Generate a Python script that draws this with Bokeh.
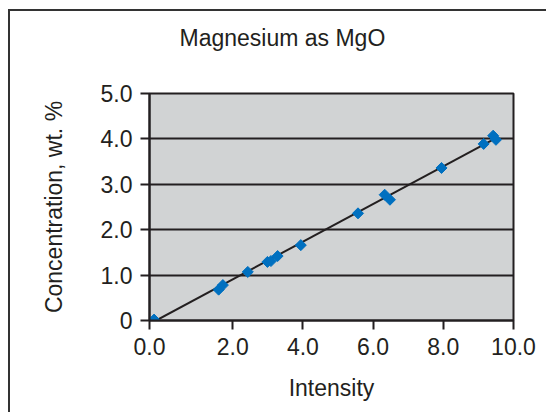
from bokeh.plotting import figure
from bokeh.models import FixedTicker, Range1d, Title
from bokeh.embed import file_html
from bokeh.resources import INLINE

# data
intensity = [-0.24, 1.60, 1.72, 2.43, 2.99, 3.09, 3.28, 3.94, 5.57, 6.33, 6.48, 7.95, 9.15, 9.42, 9.50]
concentration = [0.02, 0.68, 0.78, 1.07, 1.29, 1.31, 1.42, 1.66, 2.36, 2.77, 2.66, 3.36, 3.89, 4.07, 3.98]
fit_x = [-0.18, 9.55]
fit_y = [0.0, 4.04]

x_ticks = [-0.37, 2, 4, 6, 8, 10]
x_tick_labels = ["0.0", "2.0", "4.0", "6.0", "8.0", "10.0"]
y_ticks = [0, 1, 2, 3, 4, 5]
y_tick_labels = ["0", "1.0", "2.0", "3.0", "4.0", "5.0"]
title_text = "Magnesium as MgO"

INK = "#231f20"
FONT = "Liberation Sans"
FS = "23px"

# canvas starts at page (10, 11); the outer frame is drawn as a box-shadow on its left/top
p = figure(width=536, height=401, output_backend="svg", toolbar_location=None,
           x_range=Range1d(x_ticks[0], x_ticks[-1]), y_range=Range1d(y_ticks[0], y_ticks[-1]),
           min_border_left=139, min_border_right=33, min_border_top=82, min_border_bottom=92)
p.margin = (11, 0, 0, 10)
p.styles = {"box-shadow": "-2px 0 0 0 #333333, 0 -2px 0 0 #333333, -2px -2px 0 0 #333333"}

p.background_fill_color = "#d1d3d4"
p.border_fill_color = "white"
p.outline_line_color = INK
p.outline_line_width = 2

# spacer (closest to frame), then the visible title above it
p.add_layout(Title(text=" ", text_font_size="10px", standoff=30), "above")
p.add_layout(Title(text=title_text, text_font=FONT, text_font_size=FS, text_font_style="normal",
                   text_color=INK, align="left", offset=30, standoff=0), "above")

for ax, ticks, labels in ((p.xaxis[0], x_ticks, x_tick_labels), (p.yaxis[0], y_ticks, y_tick_labels)):
    ax.ticker = FixedTicker(ticks=ticks)
    ax.major_label_overrides = {t: l for t, l in zip(ticks, labels)}
    ax.minor_tick_line_color = None
    ax.major_tick_in = 0
    ax.major_tick_out = 9
    ax.major_tick_line_color = INK
    ax.major_tick_line_width = 2
    ax.axis_line_color = INK
    ax.axis_line_width = 2
    ax.major_label_text_font = FONT
    ax.major_label_text_font_size = FS
    ax.major_label_text_color = INK
    ax.axis_label_text_font = FONT
    ax.axis_label_text_font_size = FS
    ax.axis_label_text_font_style = "normal"
    ax.axis_label_text_color = INK

p.xaxis.axis_label = "Intensity"
p.yaxis.axis_label = "Concentration, wt. %"
p.xaxis.major_label_standoff = 8
p.yaxis.major_label_standoff = 8
p.xaxis.axis_label_standoff = 17
p.yaxis.axis_label_standoff = 31

p.xgrid.grid_line_color = None
p.ygrid.ticker = FixedTicker(ticks=y_ticks[1:-1])
p.ygrid.grid_line_color = INK
p.ygrid.grid_line_width = 2

p.line(fit_x, fit_y, line_color=INK, line_width=2)
p.scatter(intensity, concentration, marker="square", angle=0.785398, size=7.8,
          fill_color="#0070c0", line_color="#0070c0")

open("out.html", "w").write(file_html(p, INLINE))
